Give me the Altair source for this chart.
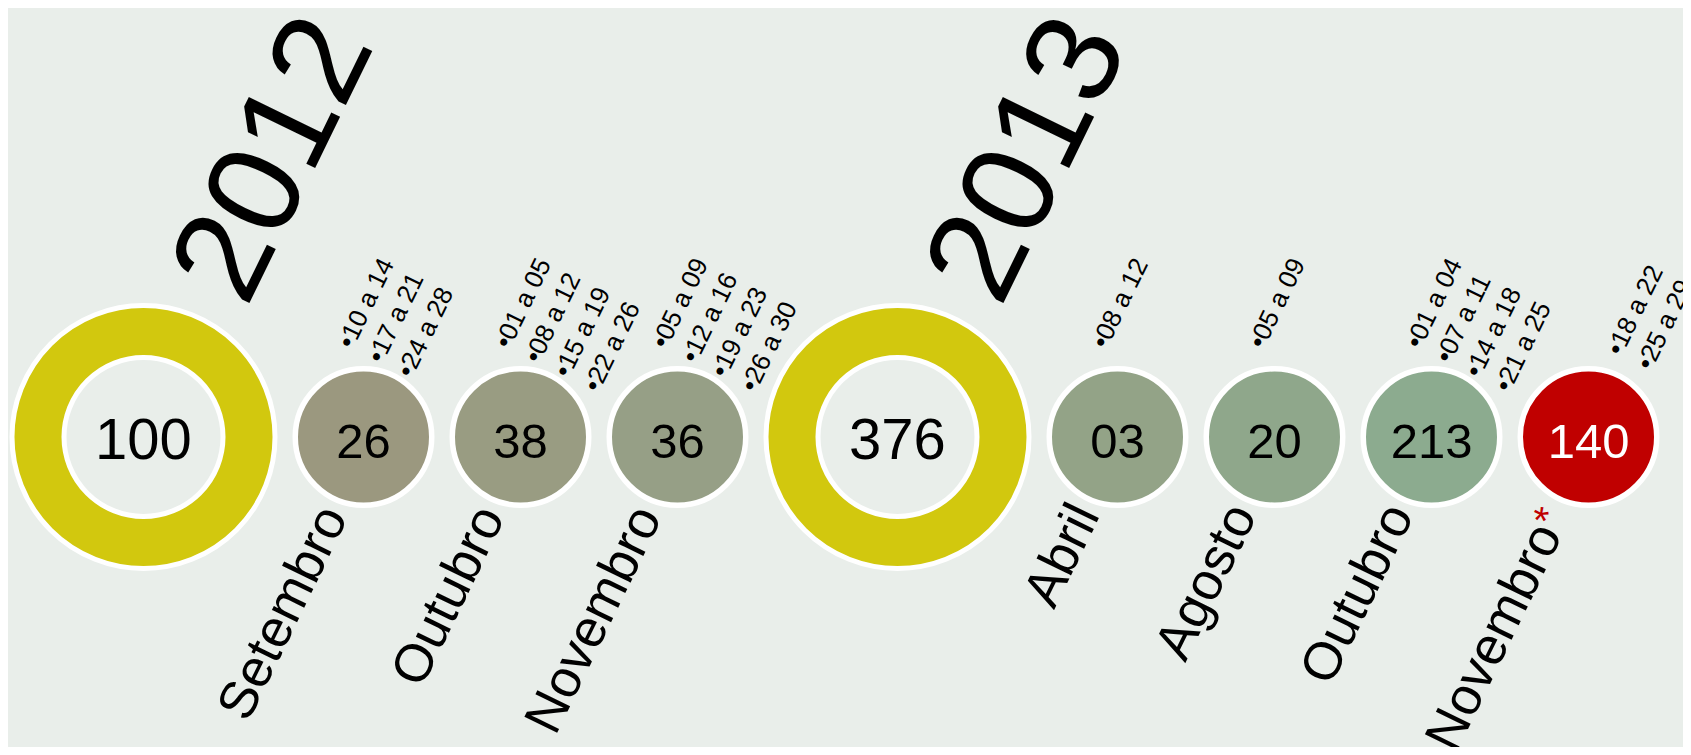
import altair as alt
import pandas as pd

# ---- data -------------------------------------------------------------
rotulos = ["2012", "Setembro", "Outubro", "Novembro", "2013", "Abril", "Agosto", "Outubro", "Novembro"]
tipos = ["ano", "mes", "mes", "mes", "ano", "mes", "mes", "mes", "mes"]
anos = [2012, 2012, 2012, 2012, 2013, 2013, 2013, 2013, 2013]
totais = ["100", "26", "38", "36", "376", "03", "20", "213", "140"]
periodos = [
    [],
    ["10 a 14", "17 a 21", "24 a 28"],
    ["01 a 05", "08 a 12", "15 a 19", "22 a 26"],
    ["05 a 09", "12 a 16", "19 a 23", "26 a 30"],
    [],
    ["08 a 12"],
    ["05 a 09"],
    ["01 a 04", "07 a 11", "14 a 18", "21 a 25"],
    ["18 a 22", "25 a 29"],
]
parcial = [False, False, False, False, False, False, False, False, True]

# ---- styles -----------------------------------------------------------
BG = "#e9eeea"
AMARELO = "#d2c80e"
cores_mes = ["#9b987f", "#999c82", "#969f86", "#93a387", "#8fa78b", "#8cab8f", "#c00000"]
FONTE = "Liberation Sans"
W, H = 1675, 739

# layout: circles packed along a line (radius by kind + constant gap)
RAIO = {"ano": 134, "mes": 71}
GAP = 15
pos = []
cur = 0.0
for i, t in enumerate(tipos):
    if i > 0:
        cur += RAIO[tipos[i - 1]] + GAP + RAIO[t]
    pos.append(cur)

df = pd.DataFrame({
    "id": [str(i) for i in range(len(rotulos))],
    "rotulo": rotulos,
    "tipo": tipos,
    "ano": anos,
    "total": totais,
    "datas": ["\n".join("\u2022" + p for p in ps) for ps in periodos],
    "parcial": parcial,
    "pos": pos,
    "y": [0] * len(rotulos),
})

ids_mes = [str(i) for i, t in enumerate(tipos) if t == "mes"]

xs = alt.Scale(domain=[-135.5, W - 135.5], nice=False, zero=False)
ys = alt.Scale(domain=[-310, 429], nice=False, zero=False)

base = alt.Chart(df).encode(
    x=alt.X("pos:Q", scale=xs, axis=None),
    y=alt.Y("y:Q", scale=ys, axis=None),
)

anel = base.transform_filter(alt.datum.tipo == "ano").mark_circle(
    size=263 ** 2, opacity=1, fill=AMARELO, stroke="white", strokeWidth=5
)
miolo = base.transform_filter(alt.datum.tipo == "ano").mark_circle(
    size=159 ** 2, opacity=1, fill=BG, stroke="white", strokeWidth=5
)
bolas = base.transform_filter(alt.datum.tipo == "mes").mark_circle(
    size=136.5 ** 2, opacity=1, stroke="white", strokeWidth=5.5
).encode(
    color=alt.Color("id:N", scale=alt.Scale(domain=ids_mes, range=cores_mes), legend=None)
)

num_ano = base.transform_filter(alt.datum.tipo == "ano").mark_text(
    font=FONTE, fontSize=58, align="center", baseline="middle", yOffset=5, color="black"
).encode(text="total:N")

num_mes = base.transform_filter(alt.datum.tipo == "mes").mark_text(
    font=FONTE, fontSize=49, align="center", baseline="middle", yOffset=6
).encode(
    text="total:N",
    color=alt.condition(alt.datum.parcial, alt.value("white"), alt.value("black")),
)

ano_txt = base.transform_filter(alt.datum.tipo == "ano").mark_text(
    font=FONTE, fontSize=132, angle=296, align="left", baseline="alphabetic",
    xOffset=103, yOffset=-128, color="black"
).encode(text="rotulo:N")

MES_FS = 53
mes_2012 = base.transform_filter(
    (alt.datum.tipo == "mes") & (alt.datum.ano == 2012)
).mark_text(
    font=FONTE, fontSize=MES_FS, angle=296, align="right", baseline="alphabetic",
    xOffset=-15, yOffset=80, color="black"
).encode(text="rotulo:N")

mes_2013 = base.transform_filter(
    (alt.datum.tipo == "mes") & (alt.datum.ano == 2013) & (~alt.datum.parcial)
).mark_text(
    font=FONTE, fontSize=MES_FS, angle=296, align="right", baseline="alphabetic",
    xOffset=-17, yOffset=78, color="black"
).encode(text="rotulo:N")

mes_parcial = base.transform_filter(alt.datum.parcial).mark_text(
    font=FONTE, fontSize=MES_FS, angle=296, align="right", baseline="alphabetic",
    xOffset=-25.5, yOffset=97.5, color="black"
).encode(text="rotulo:N")

asterisco = base.transform_filter(alt.datum.parcial).mark_text(
    font=FONTE, fontSize=40, angle=296, align="center", baseline="alphabetic",
    xOffset=-29, yOffset=86, color="#c00000", text="*"
)

DATA_FS = 26
datas = base.transform_filter(
    (alt.datum.tipo == "mes") & (~alt.datum.parcial)
).mark_text(
    font=FONTE, fontSize=DATA_FS, angle=296, align="left", baseline="alphabetic",
    lineBreak="\n", lineHeight=33, xOffset=-11, yOffset=-87, color="black"
).encode(text="datas:N")

datas_parcial = base.transform_filter(alt.datum.parcial).mark_text(
    font=FONTE, fontSize=DATA_FS, angle=296, align="left", baseline="alphabetic",
    lineBreak="\n", lineHeight=33, xOffset=33, yOffset=-80, color="black"
).encode(text="datas:N")

chart = alt.layer(
    anel, miolo, bolas, num_ano, num_mes, ano_txt, mes_2012, mes_2013,
    mes_parcial, asterisco, datas, datas_parcial
).properties(
    width=W, height=H, background=BG, padding=0,
    autosize=alt.AutoSizeParams(type="none"),
).configure_view(strokeWidth=0)

chart.save("out.html", embed_options={"renderer": "svg", "actions": False})
